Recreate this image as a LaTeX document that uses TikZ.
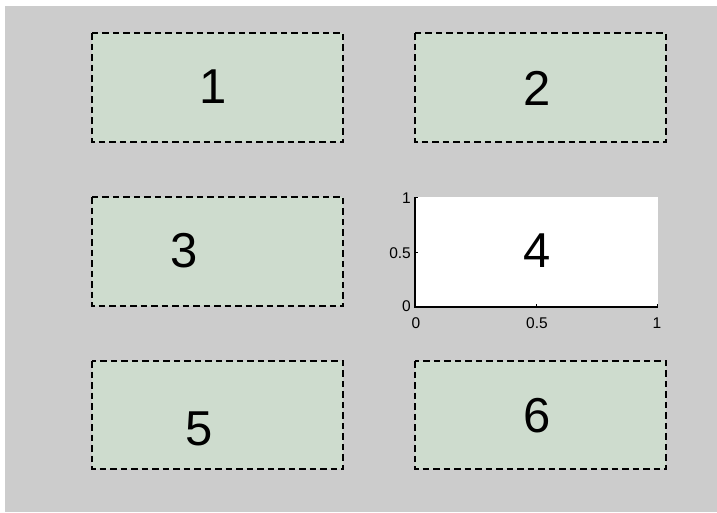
\documentclass[tikz,border=0pt]{standalone}
\usepackage{fontspec}
\setmainfont{Liberation Sans}
\definecolor{bgray}{RGB}{204,204,204}
\definecolor{pgreen}{RGB}{206,220,206}
\tikzset{
  panel/.style={draw=black, fill=pgreen, line width=1.4pt, dash pattern=on 6.5pt off 4pt},
  bignum/.style={font=\fontsize{49}{49}\selectfont, inner sep=0pt},
  ticklab/.style={font=\fontsize{15.5}{15.5}\selectfont, inner sep=0pt},
  axisline/.style={line width=1.2pt, black}
}
\begin{document}
\begin{tikzpicture}[x=1pt, y=-1pt]
\useasboundingbox (0,0) rectangle (717,512);
\fill[white] (0,0) rectangle (717,512);
\fill[bgray] (5,6) rectangle (717,512);
% panels
\draw[panel] (92,33) rectangle (343,142);
\draw[panel] (415,33) rectangle (666,142);
\draw[panel] (92,197) rectangle (343,306);
\draw[panel] (92,361) rectangle (343,469);
\draw[panel] (415,361) rectangle (666,469);
% axes panel 4
\fill[white] (415,197) rectangle (658,307);
\coordinate (o) at (415,307);
\coordinate (xe) at (658,307);
\coordinate (ye) at (415,197);
\draw[axisline] (ye) -- (o) -- (xe);
\draw[line width=0.8pt] (415,252) -- (418,252);
\draw[line width=0.8pt] (415,197.5) -- (418,197.5);
\draw[line width=0.8pt] (536.5,307) -- (536.5,304);
\draw[line width=0.8pt] (657.5,307) -- (657.5,304);
\node[ticklab, anchor=east] (y1) at (411,198) {1};
\node[ticklab, anchor=east] (y05) at (411,253) {0.5};
\node[ticklab, anchor=east] (y0) at (411,306) {0};
\node[ticklab] (x0) at (416,323) {0};
\node[ticklab] (x05) at (537,323) {0.5};
\node[ticklab] (x1) at (657,323) {1};
% numbers
\node[bignum] (n1) at (213,87) {1};
\node[bignum] (n2) at (537,88) {2};
\node[bignum] (n3) at (184,251) {3};
\node[bignum] (n4) at (537,251) {4};
\node[bignum] (n5) at (199,429) {5};
\node[bignum] (n6) at (537,416) {6};
\end{tikzpicture}
\end{document}
